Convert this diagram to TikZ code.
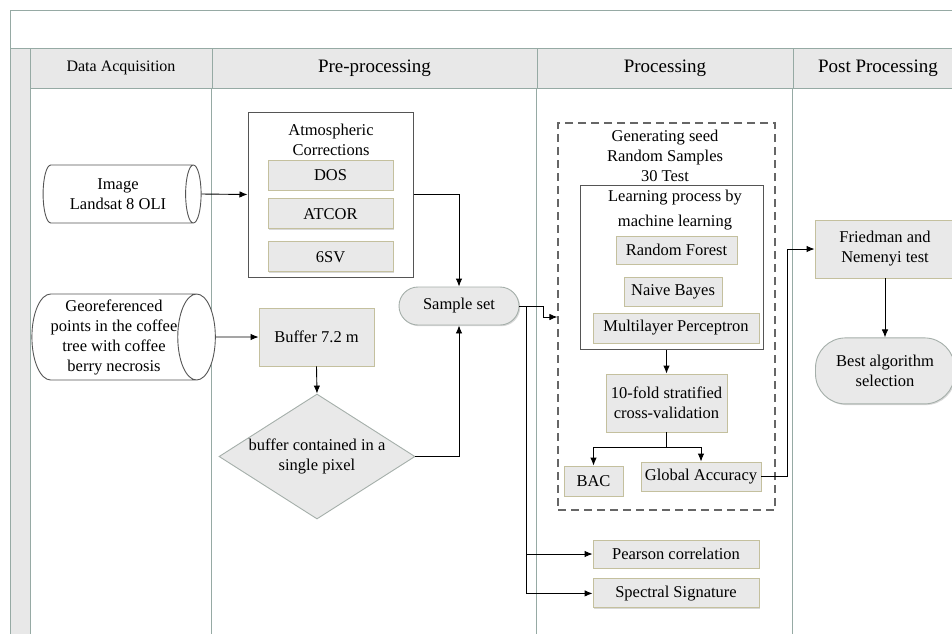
\documentclass[tikz,border=0pt]{standalone}
\usepackage{fontspec}
\setmainfont{Liberation Serif}
\usetikzlibrary{shapes,arrows,arrows.meta,positioning,calc,shadows}
\definecolor{laneline}{RGB}{150,170,164}
\definecolor{headfill}{RGB}{232,232,232}
\definecolor{boxfill}{RGB}{233,233,233}
\definecolor{boxline}{RGB}{196,192,158}
\definecolor{termline}{RGB}{165,175,170}
\definecolor{frameline}{RGB}{85,85,85}
\tikzset{
txt/.style = {font=\fontsize{16.5}{20}\selectfont, align=center},
block/.style = {txt, draw=boxline, fill=boxfill, rectangle, inner sep=1pt, drop shadow={shadow xshift=1.2pt, shadow yshift=-1.2pt, opacity=.3}},
term/.style = {txt, draw=termline, fill=boxfill, rectangle, inner sep=1pt, drop shadow={shadow xshift=1.2pt, shadow yshift=-1.2pt, opacity=.3}},
decision/.style = {txt, draw=termline, fill=boxfill, diamond, aspect=1.57, inner sep=0pt},
store/.style = {txt, draw=frameline, fill=white, cylinder, shape border rotate=0, aspect=0.5, inner sep=0pt},
group/.style = {draw=frameline, line width=1pt, rectangle},
head/.style = {draw=laneline, fill=headfill, line width=1pt, rectangle, inner sep=0pt},
lane/.style = {draw=laneline, line width=1pt}
}
\begin{document}
\begin{tikzpicture}[x=1pt, y=-1pt, >={Latex[length=8pt,width=6.5pt]}, line width=0.9pt]
    \path[use as bounding box, clip] (0,0) rectangle (952,633);
    % swimlanes
    \draw[lane, fill=white] (10,10) rectangle (965,645);
    \draw[lane] (10,48) -- (965,48);
    \draw[head] (10,48) rectangle (30,645);
    \node [head, minimum width=182pt, minimum height=40pt, font=\fontsize{16}{19}\selectfont] (hacq) at (121,68) {Data Acquisition};
    \node [head, minimum width=325pt, minimum height=40pt, font=\fontsize{19}{23}\selectfont] (hpre) at (374.5,68) {Pre-processing};
    \node [head, minimum width=256pt, minimum height=40pt, font=\fontsize{19}{23}\selectfont] (hproc) at (665,68) {Processing};
    \node [head, minimum width=170pt, minimum height=40pt, font=\fontsize{19}{23}\selectfont] (hpost) at (878,68) {Post Processing};
    \draw[lane] (hpre.south west) -- ++(0,560);
    \draw[lane] (hproc.south west) -- ++(0,560);
    \draw[lane] (hpost.south west) -- ++(0,560);

    % data acquisition
    \node [store, minimum height=158pt, minimum width=58pt] (img) at (118,194) {Image\\Landsat 8 OLI};
    \node [store, minimum height=176pt, minimum width=86pt] (geo) at (114,337) {Georeferenced\\points in the coffee\\tree with coffee\\berry necrosis};

    % pre-processing
    \node [group, minimum width=165pt, minimum height=165pt] (atm) at (330.5,194.5) {};
    \node [txt] (atmtitle) at (331,140) {Atmospheric\\Corrections};
    \node [block, minimum width=125pt, minimum height=30pt] (dos) at (330.5,175) {DOS};
    \node [block, minimum width=125pt, minimum height=30pt, below=8pt of dos] (atcor) {ATCOR};
    \node [block, minimum width=125pt, minimum height=30pt, below=12pt of atcor] (sixsv) {6SV};
    \node [term, rounded corners=19pt, minimum width=120pt, minimum height=38pt] (sample) at (459,306) {Sample set};
    \node [block, minimum width=115pt, minimum height=58pt] (buf) at (316.5,337) {Buffer 7.2 m};
    \node [decision, minimum width=196pt, minimum height=125pt] (dec) at (317,456.5) {buffer contained in a\\single pixel};

    % processing
    \node [group, draw=black!60, line width=1.2pt, dash pattern=on 8pt off 5pt, minimum width=217pt, minimum height=387pt] (gen) at (666.5,316.5) {};
    \node [txt] (gentitle) at (665,156) {Generating seed\\Random Samples\\30 Test};
    \node [group, minimum width=183pt, minimum height=164pt] (learn) at (671.5,267) {};
    \node [txt] (learntitle) at (675,210) {Learning process by\\[5pt]machine learning};
    \node [block, minimum width=121pt, minimum height=28pt] (rf) at (676.5,250) {Random Forest};
    \node [block, minimum width=98pt, minimum height=29pt] (nb) at (673,291.5) {Naive Bayes};
    \node [block, minimum width=166pt, minimum height=30pt] (mlp) at (676,328) {Multilayer Perceptron};
    \node [block, minimum width=121pt, minimum height=58pt] (cv) at (666.5,403) {10-fold stratified\\cross-validation};
    \node [block, minimum width=59pt, minimum height=30pt] (bac) at (593.5,481) {BAC};
    \node [block, minimum width=120pt, minimum height=29pt] (ga) at (701,476.5) {Global Accuracy};
    \node [block, minimum width=166pt, minimum height=28pt] (pearson) at (676,554) {Pearson correlation};
    \node [block, minimum width=166pt, minimum height=29pt, below=10pt of pearson] (spectral) {Spectral Signature};

    % post processing
    \node [block, minimum width=140pt, minimum height=58pt] (fried) at (885,249) {Friedman and\\Nemenyi test};
    \node [term, rounded corners=30pt, minimum width=139pt, minimum height=66pt, below=59pt of fried] (best) {Best algorithm\\selection};

    % connectors
    \draw [->] (img.east) -- (atm.west);
    \draw [->] (geo.east) -- (buf.west);
    \draw [->] (atm.east) -| (sample.north);
    \draw [->] (buf.south) -- (dec.north);
    \draw [->] (dec.east) -| (sample.south);
    \draw [->] (sample.east) -- ++(24,0) |- ([yshift=-11pt]sample.east -| gen.west);
    \draw [->] (sample.east) -- ++(7,0) |- (pearson.west);
    \draw [->] (sample.east) -- ++(7,0) |- (spectral.west);
    \draw [->] (learn.south -| cv.north) -- (cv.north);
    \draw [->] (cv.south) -- ++(0,15) -| (bac.north);
    \draw [->] (cv.south) -- ++(0,15) -| (ga.north);
    \draw [->] (ga.east) -- ++(26,0) |- (fried.west);
    \draw [->] (fried.south) -- (best.north);
\end{tikzpicture}
\end{document}
